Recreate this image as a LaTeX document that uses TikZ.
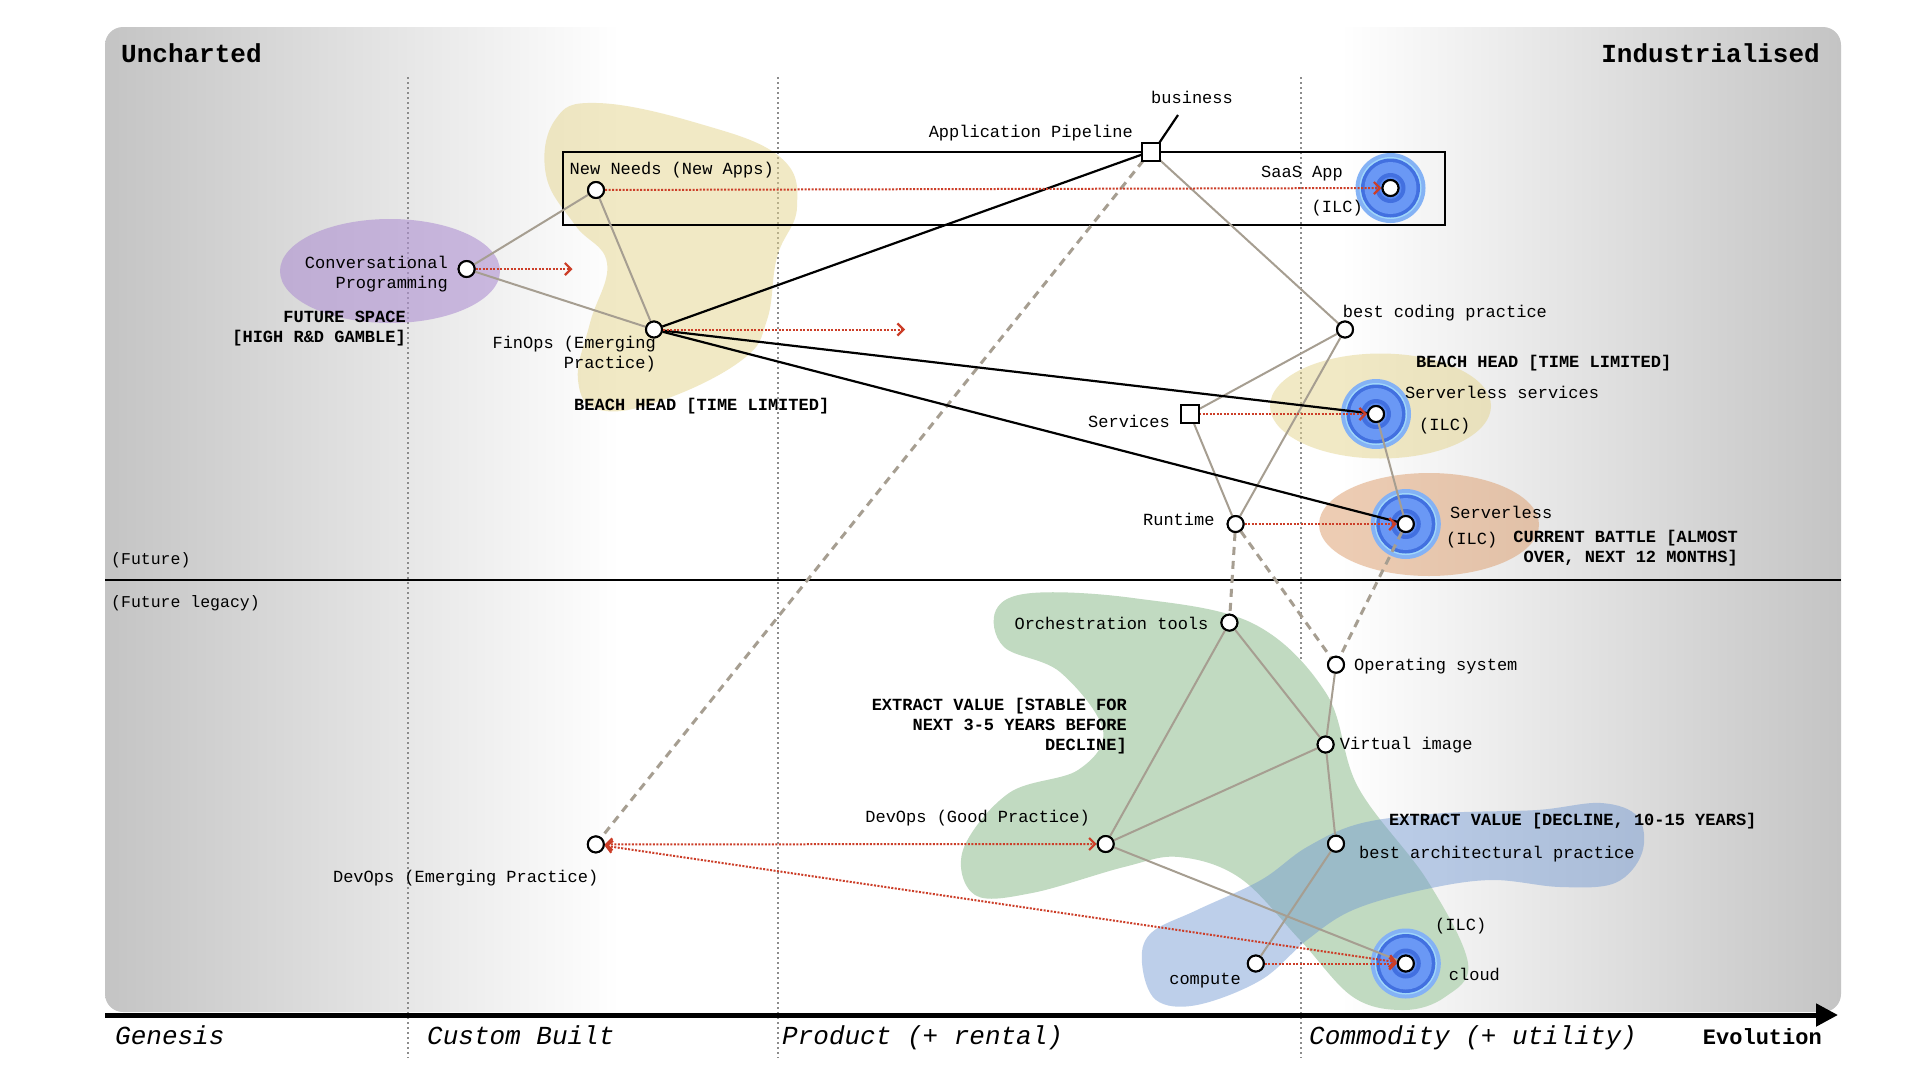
\documentclass[tikz,border=0pt]{standalone}
\usepackage{fontspec}
\setmainfont{Liberation Mono}
\usetikzlibrary{arrows.meta,shapes.geometric}
\definecolor{greyln}{RGB}{166,158,145}
\definecolor{redln}{RGB}{204,62,40}
\definecolor{bgg}{RGB}{196,196,196}
\definecolor{dotg}{RGB}{140,140,140}
\definecolor{purp}{RGB}{175,145,210}
\definecolor{yel}{RGB}{228,212,140}
\definecolor{ora}{RGB}{220,155,105}
\definecolor{grn}{RGB}{193,218,193}
\definecolor{blu}{RGB}{110,150,210}
\definecolor{ilcA}{RGB}{132,178,245}
\definecolor{ilcB}{RGB}{160,215,250}
\definecolor{ilcC}{RGB}{66,112,224}
\definecolor{ilcD}{RGB}{106,152,245}
\definecolor{ilcE}{RGB}{88,136,238}
\tikzset{
  comp/.style={circle, draw=black, line width=2pt, fill=white, minimum size=16pt, inner sep=0pt},
  sqcomp/.style={rectangle, draw=black, line width=2pt, fill=white, minimum size=16pt, inner sep=0pt},
  lbl/.style={font=\fontsize{17}{20}\selectfont, inner sep=0pt},
  bld/.style={font=\fontsize{17}{20}\selectfont\bfseries, inner sep=0pt},
  ttl/.style={font=\fontsize{26}{30}\selectfont\bfseries, inner sep=0pt},
  axl/.style={font=\fontsize{26}{30}\selectfont\itshape, inner sep=0pt},
  gl/.style={draw=greyln, line width=2pt},
  gdash/.style={draw=greyln, line width=3pt, dash pattern=on 8pt off 6pt},
  bl/.style={draw=black, line width=2.2pt},
  barb/.tip={Straight Barb[length=6pt,width=12pt,line width=2.2pt]},
  redarr/.style={draw=redln, line width=2pt, dash pattern=on 2pt off 1.5pt, -barb},
  redboth/.style={draw=redln, line width=2pt, dash pattern=on 2pt off 1.5pt, barb-barb},
  vdot/.style={draw=dotg, line width=1.5pt, dash pattern=on 1.5pt off 3.5pt},
  ilcrings/.pic={
    \fill[ilcA] (0,0) circle[radius=35pt];
    \fill[ilcB] (0,0) circle[radius=31pt];
    \fill[ilcC] (0,0) circle[radius=29.5pt];
    \fill[ilcD] (0,0) circle[radius=26pt];
    \fill[ilcC] (0,0) circle[radius=15pt];
    \fill[ilcE] (0,0) circle[radius=11pt];
  }
}
\begin{document}
\begin{tikzpicture}[x=1pt,y=-1pt]
\useasboundingbox (0,0) rectangle (1920,1080);
\fill[white] (0,0) rectangle (1920,1080);
% background
\begin{scope}
\clip[rounded corners=18pt] (105,27) rectangle (1841,1012);
\fill[white] (105,27) rectangle (1841,1012);
\shade[left color=bgg, right color=white] (105,27) rectangle (620,1012);
\shade[left color=white, right color=bgg] (1340,27) rectangle (1841,1012);
\end{scope}
% evolution stage separators
\coordinate (v1t) at (408,77); \coordinate (v1b) at (408,1058);
\coordinate (v2t) at (778,77); \coordinate (v2b) at (778,1058);
\coordinate (v3t) at (1301,77); \coordinate (v3b) at (1301,1058);
\draw[vdot] (v1t) -- (v1b);
\draw[vdot] (v2t) -- (v2b);
\draw[vdot] (v3t) -- (v3b);
% future line
\coordinate (hl) at (105,580); \coordinate (hr) at (1841,580);
\draw[black, line width=2.5pt] (hl) -- (hr);
% areas
\fill[purp, opacity=0.6] (390,271) ellipse [x radius=110, y radius=52];
\fill[yel, opacity=0.5] plot[smooth cycle, tension=0.7] coordinates {(597,103) (697,123) (780,157) (797,207) (777,257) (767,320) (742,360) (663,400) (600,410) (578,380) (590,323) (607,263) (575,225) (546,175) (555,120)};
\fill[yel, opacity=0.5] (1380.5,406) ellipse [x radius=110.5, y radius=52.5];
\fill[ora, opacity=0.5] (1429,524.5) ellipse [x radius=110, y radius=51.5];
\fill[grn] plot[smooth cycle, tension=0.6] coordinates {(1032,593) (1133,598) (1252,623) (1326,693) (1358,787) (1427,880) (1468,963) (1445,997) (1404,1010) (1353,997) (1300,940) (1240,878) (1179,857) (1124,867) (1032,893) (975,895) (963,850) (1009,793) (1078,770) (1103,730) (1060,672) (1004,647) (996,610)};
\fill[blu, opacity=0.45] plot[smooth cycle, tension=0.6] coordinates {(1142,963) (1156,1000) (1197,1005) (1261,980) (1307,940) (1353,910) (1422,890) (1491,880) (1560,887) (1615,883) (1642,853) (1638,817) (1601,803) (1537,810) (1445,813) (1362,823) (1307,847) (1261,880) (1197,910) (1151,933)};
% pipeline box
\draw[black, line width=2pt] (563,152) rectangle (1445,224.5);
% ILC rings
\pic at (1390.5,188) {ilcrings};
\pic at (1376,414) {ilcrings};
\pic at (1405.8,524) {ilcrings};
\pic at (1405.8,963.5) {ilcrings};
% axis
\coordinate (axL) at (105,1015); \coordinate (axR) at (1838,1015);
\draw[black, line width=5pt, -{Triangle[length=22pt,width=22pt]}] (axL) -- (axR);
% titles
\node[ttl, anchor=west] (tU) at (121,53.5) {Uncharted};
\node[ttl, anchor=east] (tI) at (1820,53.5) {Industrialised};
\node[lbl, anchor=west, font=\fontsize{16.5}{20}\selectfont] (tF) at (111,560) {(Future)};
\node[lbl, anchor=west, font=\fontsize{16.5}{20}\selectfont] (tFL) at (111,603) {(Future legacy)};
\node[axl, anchor=base west] (a1) at (115,1044.5) {Genesis};
\node[axl, anchor=base west] (a2) at (427,1044.5) {Custom Built};
\node[axl, anchor=base west] (a3) at (782,1044.5) {Product (+ rental)};
\node[axl, anchor=base west] (a4) at (1309,1044.5) {Commodity (+ utility)};
\node[font=\fontsize{22}{26}\selectfont\bfseries, inner sep=0pt, anchor=base east] (a5) at (1822,1044) {Evolution};
% components
\node[comp] (conv) at (466.6,269) {};
\node[comp] (newneeds) at (596,190) {};
\node[comp] (finops) at (654,329.5) {};
\node[sqcomp] (pipeline) at (1150.5,151.5) {};
\node[comp] (saas) at (1390.5,188) {};
\node[comp] (bcp) at (1345,329.5) {};
\node[sqcomp] (services) at (1190,414) {};
\node[comp] (sls) at (1376,414) {};
\node[comp] (runtime) at (1235.6,524) {};
\node[comp] (serverless) at (1405.8,524) {};
\node[comp] (orch) at (1229.4,622.6) {};
\node[comp] (os) at (1336,664.7) {};
\node[comp] (vi) at (1325.6,744.5) {};
\node[comp] (bap) at (1336,843.7) {};
\node[comp] (devgood) at (1105.7,844) {};
\node[comp] (cloud) at (1405.8,963.5) {};
\node[comp] (compute) at (1255.8,963.5) {};
\node[comp] (devemerg) at (595.8,844.4) {};
% grey links
\path[gl] (conv) -- (newneeds);
\path[gl] (conv) -- (finops);
\path[gl] (newneeds) -- (finops);
\path[gl] (pipeline) -- (bcp);
\path[gl] (bcp) -- (services);
\path[gl] (bcp) -- (runtime);
\path[gl] (services) -- (runtime);
\path[gl] (sls) -- (serverless);
\path[gl] (orch) -- (vi);
\path[gl] (orch) -- (devgood);
\path[gl] (os) -- (vi);
\path[gl] (vi) -- (devgood);
\path[gl] (vi) -- (bap);
\path[gl] (bap) -- (compute);
\path[gl] (devgood) -- (cloud);
% dashed links
\path[gdash] (pipeline) -- (devemerg);
\path[gdash] (runtime) -- (orch);
\path[gdash] (runtime) -- (os);
\path[gdash] (serverless) -- (os);
% black links
\path[bl] (finops) -- (pipeline);
\path[bl] (finops) -- (sls);
\path[bl] (finops) -- (serverless);
\coordinate (bizE) at (1178,115);
\path[bl] (pipeline.north east) -- (bizE);
% red evolution arrows
\coordinate (convE) at (572.5,269);
\coordinate (finE) at (905,329.5);
\path[redarr] (conv) -- (convE);
\path[redarr] (finops) -- (finE);
\path[redarr] (newneeds) -- (saas);
\path[redarr] (services) -- (sls);
\path[redarr] (runtime) -- (serverless);
\path[redboth] (devemerg) -- (devgood);
\path[redboth] (devemerg) -- (cloud);
\path[redarr] (compute) -- (cloud);
% redraw nodes on top
\foreach \n in {conv,newneeds,finops,saas,bcp,sls,runtime,serverless,orch,os,vi,bap,devgood,cloud,compute,devemerg}{
  \draw[black, line width=2pt, fill=white] (\n) circle[radius=8pt];
}
\draw[black, line width=2pt, fill=white] (pipeline.south west) rectangle (pipeline.north east);
\draw[black, line width=2pt, fill=white] (services.south west) rectangle (services.north east);
% labels
\node[lbl, anchor=east, align=right] (lconv) at (448,274) {Conversational\\Programming};
\node[bld, anchor=east, align=right] (lfs) at (406,329) {FUTURE SPACE\\{[HIGH R\&D GAMBLE]}};
\node[lbl, anchor=west] (lnn) at (569.5,170) {New Needs (New Apps)};
\node[lbl, anchor=east, align=right] (lfin) at (656,354) {FinOps (Emerging\\Practice)};
\node[bld, anchor=west] (lbh1) at (574,406) {BEACH HEAD [TIME LIMITED]};
\node[lbl, anchor=east] (lpipe) at (1133,132.6) {Application Pipeline};
\node[lbl] (lbiz) at (1192,97) {business};
\node[lbl, anchor=east] (lsaas) at (1343,174) {SaaS App};
\node[lbl, anchor=west] (lsaasi) at (1311.5,207.6) {(ILC)};
\node[lbl, anchor=west] (lbcp) at (1342.7,312.7) {best coding practice};
\node[bld, anchor=west] (lbh2) at (1416,363) {BEACH HEAD [TIME LIMITED]};
\node[lbl, anchor=west] (lsls) at (1405,392) {Serverless services};
\node[lbl, anchor=west] (lslsi) at (1419,426) {(ILC)};
\node[lbl, anchor=east] (lserv) at (1170,421.5) {Services};
\node[lbl, anchor=east] (lrt) at (1214.7,519) {Runtime};
\node[lbl, anchor=west] (lsl) at (1450,512) {Serverless};
\node[lbl, anchor=west] (lsli) at (1446,540) {(ILC)};
\node[bld, anchor=east, align=right] (lcb) at (1738,548.5) {CURRENT BATTLE [ALMOST\\OVER, NEXT 12 MONTHS]};
\node[lbl, anchor=east] (lorch) at (1208.6,623) {Orchestration tools};
\node[lbl, anchor=west] (los) at (1354,666) {Operating system};
\node[lbl, anchor=west] (lvi) at (1339.7,745) {Virtual image};
\node[lbl, anchor=west] (lbap) at (1359,854.4) {best architectural practice};
\node[lbl, anchor=east] (ldg) at (1090,818) {DevOps (Good Practice)};
\node[lbl, anchor=west] (lcli) at (1435,925.7) {(ILC)};
\node[lbl, anchor=west] (lcl) at (1448.7,974.6) {cloud};
\node[lbl] (lcomp) at (1205,980.8) {compute};
\node[lbl] (lde) at (465.7,878.5) {DevOps (Emerging Practice)};
\node[bld, anchor=east, align=right] (lev1) at (1127,726) {EXTRACT VALUE [STABLE FOR\\NEXT 3-5 YEARS BEFORE\\DECLINE]};
\node[bld, anchor=west] (lev2) at (1389,820.6) {EXTRACT VALUE [DECLINE, 10-15 YEARS]};
\end{tikzpicture}
\end{document}
